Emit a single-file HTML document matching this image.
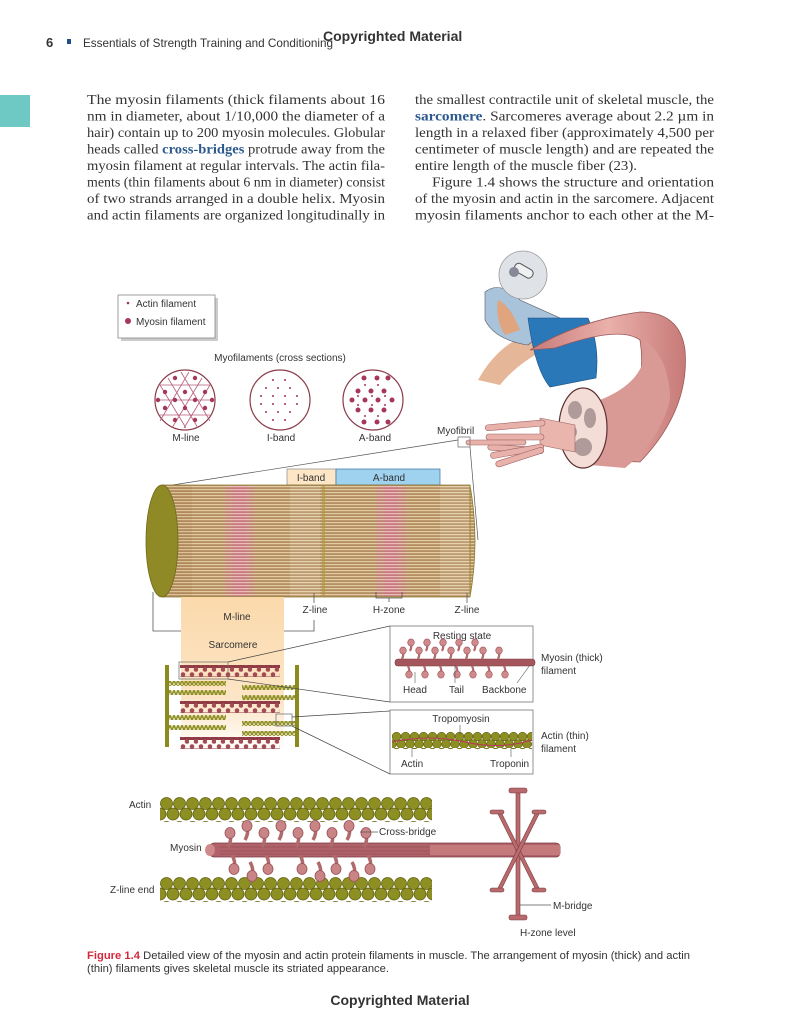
<!DOCTYPE html>
<html><head><meta charset="utf-8"><style>
html,body{margin:0;padding:0;background:#fff;}
svg{display:block;}
.s{font-family:"Liberation Sans",sans-serif;fill:#333;}
.t{font-family:"Liberation Serif",serif;font-size:13.5px;fill:#333;}
</style></head><body>
<svg width="800" height="1035" viewBox="0 0 800 1035" xmlns="http://www.w3.org/2000/svg">
<defs>
<pattern id="stripe" width="4" height="3" patternUnits="userSpaceOnUse">
<rect width="4" height="3" fill="#b38e60"/><rect y="0" width="4" height="1.2" fill="#e3cca4"/>
</pattern>
<pattern id="pstripe" width="4" height="3" patternUnits="userSpaceOnUse">
<rect width="4" height="3" fill="#c77a7e"/><rect y="0" width="4" height="1.2" fill="#ecbcbc"/>
</pattern>
<pattern id="actin" x="160" y="797" width="13" height="24" patternUnits="userSpaceOnUse">
<circle cx="6.5" cy="6.5" r="6" fill="#8e8f22" stroke="#5f6010" stroke-width=".8"/>
<circle cx="0" cy="17" r="6" fill="#8e8f22" stroke="#5f6010" stroke-width=".8"/>
<circle cx="13" cy="17" r="6" fill="#8e8f22" stroke="#5f6010" stroke-width=".8"/>
</pattern>
<pattern id="actin2" x="160" y="877" width="13" height="24" patternUnits="userSpaceOnUse">
<circle cx="6.5" cy="6.5" r="6" fill="#8e8f22" stroke="#5f6010" stroke-width=".8"/>
<circle cx="0" cy="17" r="6" fill="#8e8f22" stroke="#5f6010" stroke-width=".8"/>
<circle cx="13" cy="17" r="6" fill="#8e8f22" stroke="#5f6010" stroke-width=".8"/>
</pattern>
<pattern id="actinS" x="392" y="732" width="9" height="16" patternUnits="userSpaceOnUse">
<circle cx="4.5" cy="4.5" r="4.3" fill="#8e8f22" stroke="#5f6010" stroke-width=".6"/>
<circle cx="0" cy="12" r="4.3" fill="#8e8f22" stroke="#5f6010" stroke-width=".6"/>
<circle cx="9" cy="12" r="4.3" fill="#8e8f22" stroke="#5f6010" stroke-width=".6"/>
</pattern>
<pattern id="tiny" width="4" height="5" patternUnits="userSpaceOnUse">
<circle cx="2" cy="1.5" r="1.5" fill="#8e8f22"/><circle cx="0" cy="3.8" r="1.5" fill="#8e8f22"/><circle cx="4" cy="3.8" r="1.5" fill="#8e8f22"/>
</pattern>
<pattern id="myoS" width="9" height="12" patternUnits="userSpaceOnUse">
<rect y="4.5" width="9" height="3.5" fill="#8e3b45"/>
<circle cx="3" cy="2.5" r="2.3" fill="#a24b55"/><circle cx="7" cy="9.5" r="2.3" fill="#a24b55"/>
<rect x="2.2" y="3" width="1.6" height="3" fill="#a24b55"/><rect x="6.2" y="7" width="1.6" height="3" fill="#a24b55"/>
</pattern>
<linearGradient id="peach" x1="0" y1="0" x2="0" y2="1">
<stop offset="0" stop-color="#fbd9ab"/><stop offset=".7" stop-color="#fce6c8"/><stop offset="1" stop-color="#fff"/>
</linearGradient>
<linearGradient id="pink" x1="0" y1="0" x2="1" y2="0">
<stop offset="0" stop-color="#c77a78"/><stop offset=".5" stop-color="#eab0aa"/><stop offset="1" stop-color="#c77a78"/>
</linearGradient>
<g id="head"><path d="M0 0 Q4 -7 2 -13" stroke="#b06a6c" stroke-width="3.5" fill="none"/><ellipse cx="2" cy="-14" rx="5" ry="5.5" fill="#c98486" stroke="#9a5058" stroke-width=".8"/></g>
<g id="hd"><path d="M0 0 Q4 7 2 13" stroke="#b06a6c" stroke-width="3.5" fill="none"/><ellipse cx="2" cy="14" rx="5" ry="5.5" fill="#c98486" stroke="#9a5058" stroke-width=".8"/></g>
<g id="sh"><path d="M0 0 Q2 -4 1 -8" stroke="#b06a6c" stroke-width="2.2" fill="none"/><ellipse cx="1" cy="-8.5" rx="3.3" ry="3.6" fill="#cf8a8c" stroke="#9a5058" stroke-width=".6"/></g>
<g id="shd"><path d="M0 0 Q2 4 1 8" stroke="#b06a6c" stroke-width="2.2" fill="none"/><ellipse cx="1" cy="8.5" rx="3.3" ry="3.6" fill="#cf8a8c" stroke="#9a5058" stroke-width=".6"/></g>
</defs>

<!-- header -->
<text x="46" y="47" class="s" font-size="13" font-weight="bold" fill="#222">6</text>
<rect x="67" y="39" width="4" height="5" fill="#1f4f8a"/>
<text x="83" y="47" class="s" font-size="12" fill="#666" textLength="250" lengthAdjust="spacingAndGlyphs">Essentials of Strength Training and Conditioning</text>
<text x="323" y="41" class="s" font-size="14" font-weight="bold" fill="#555">Copyrighted Material</text>
<rect x="0" y="95" width="30" height="32" fill="#6ec8c3"/>

<!-- body text -->
<g class="t">
<text x="87" y="104" textLength="298" lengthAdjust="spacingAndGlyphs">The myosin filaments (thick filaments about 16</text>
<text x="87" y="120.5" textLength="298" lengthAdjust="spacingAndGlyphs">nm in diameter, about 1/10,000 the diameter of a</text>
<text x="87" y="137" textLength="298" lengthAdjust="spacingAndGlyphs">hair) contain up to 200 myosin molecules. Globular</text>
<text x="87" y="153.5" textLength="298" lengthAdjust="spacingAndGlyphs">heads called <tspan font-weight="bold" fill="#2d5a8e">cross-bridges</tspan> protrude away from the</text>
<text x="87" y="170" textLength="298" lengthAdjust="spacingAndGlyphs">myosin filament at regular intervals. The actin fila-</text>
<text x="87" y="186.5" textLength="298" lengthAdjust="spacingAndGlyphs">ments (thin filaments about 6 nm in diameter) consist</text>
<text x="87" y="203" textLength="298" lengthAdjust="spacingAndGlyphs">of two strands arranged in a double helix. Myosin</text>
<text x="87" y="219.5" textLength="298" lengthAdjust="spacingAndGlyphs">and actin filaments are organized longitudinally in</text>
<text x="415" y="104" textLength="299" lengthAdjust="spacingAndGlyphs">the smallest contractile unit of skeletal muscle, the</text>
<text x="415" y="120.5" textLength="299" lengthAdjust="spacingAndGlyphs"><tspan font-weight="bold" fill="#2d5a8e">sarcomere</tspan>. Sarcomeres average about 2.2 µm in</text>
<text x="415" y="137" textLength="299" lengthAdjust="spacingAndGlyphs">length in a relaxed fiber (approximately 4,500 per</text>
<text x="415" y="153.5" textLength="299" lengthAdjust="spacingAndGlyphs">centimeter of muscle length) and are repeated the</text>
<text x="415" y="170" textLength="222" lengthAdjust="spacingAndGlyphs">entire length of the muscle fiber (23).</text>
<text x="432" y="186.5" textLength="282" lengthAdjust="spacingAndGlyphs">Figure 1.4 shows the structure and orientation</text>
<text x="415" y="203" textLength="299" lengthAdjust="spacingAndGlyphs">of the myosin and actin in the sarcomere. Adjacent</text>
<text x="415" y="219.5" textLength="299" lengthAdjust="spacingAndGlyphs">myosin filaments anchor to each other at the M-</text>
</g>

<!-- muscle illustration -->
<path d="M478 380 Q500 340 540 330 L555 345 Q520 360 500 385 Z" fill="#e0a47e" opacity=".8"/>
<path d="M485 292 Q500 280 520 300 L560 318 L528 345 Q495 340 485 320 Z" fill="#a9c3da" stroke="#556" stroke-width=".6"/>
<path d="M498 300 Q510 305 520 330 L505 335 Q495 320 498 300Z" fill="#e0a47e"/>
<circle cx="523" cy="275" r="24" fill="#dfe3e7" stroke="#999" stroke-width=".8"/>
<rect x="513" y="266" width="20" height="9" rx="4" fill="#eef0f2" stroke="#555" transform="rotate(30 523 272)"/>
<circle cx="514" cy="272" r="5" fill="#889" />
<path d="M528 318 L588 318 Q600 345 596 378 L550 387 Q535 370 528 318Z" fill="#2a78b8" stroke="#1c4f80" stroke-width=".6"/>
<path d="M530 350 Q580 320 640 312 Q680 312 685 350 Q690 410 640 462 L600 460 Q650 400 640 340 Q620 325 555 348Z" fill="url(#pink)" stroke="#9a5a5a" stroke-width=".8"/>
<path d="M600 400 Q650 380 645 340 Q670 360 670 400 Q660 440 625 468 L590 465Z" fill="#d99a96"/>
<ellipse cx="583" cy="428" rx="24" ry="40" fill="#f3ddd6" stroke="#5a2f2f" stroke-width="1.2"/>
<g fill="#b09a9a"><ellipse cx="575" cy="410" rx="7" ry="9"/><ellipse cx="590" cy="418" rx="6" ry="10"/><ellipse cx="583" cy="447" rx="9" ry="9"/><ellipse cx="572" cy="432" rx="5" ry="6"/></g>
<path d="M540 418 L575 425 L575 452 L540 445 Z" fill="#e9b5ad" stroke="#a06464" stroke-width=".6"/>
<g stroke="#a06464" stroke-width=".6" fill="#e8b2aa">
<rect x="485" y="425" width="60" height="6" rx="3" transform="rotate(-5 485 425)"/>
<rect x="486" y="434" width="58" height="6" rx="3"/>
<rect x="488" y="444" width="56" height="6" rx="3" transform="rotate(4 488 444)"/>
<rect x="490" y="453" width="54" height="6" rx="3" transform="rotate(-10 490 453)"/>
<rect x="495" y="462" width="50" height="6" rx="3" transform="rotate(-18 495 462)"/>
<rect x="466" y="440" width="60" height="5" rx="2.5"/>
</g>
<text x="437" y="434" class="s" font-size="10">Myofibril</text>
<rect x="458" y="437" width="12" height="10" fill="none" stroke="#777" stroke-width=".8"/>
<line x1="458" y1="440" x2="160" y2="487" stroke="#555" stroke-width=".7"/>
<line x1="470" y1="447" x2="478" y2="540" stroke="#555" stroke-width=".7"/>

<!-- legend -->
<rect x="121" y="298" width="97" height="43" fill="#ccc"/>
<rect x="118" y="295" width="97" height="43" fill="#fff" stroke="#888" stroke-width=".8"/>
<circle cx="128" cy="303" r="1.3" fill="#a5375a"/>
<circle cx="128" cy="321" r="3" fill="#a5375a"/>
<text x="136" y="307" class="s" font-size="10">Actin filament</text>
<text x="136" y="325" class="s" font-size="10">Myosin filament</text>

<!-- cross sections -->
<text x="280" y="361" class="s" font-size="10" text-anchor="middle">Myofilaments (cross sections)</text>
<g fill="none" stroke="#8a3a48" stroke-width="1.2">
<circle cx="185" cy="400" r="30"/><circle cx="280" cy="400" r="30"/><circle cx="373" cy="400" r="30"/>
</g>
<g stroke="#b55c78" stroke-width=".8" fill="none">
<line x1="160" y1="385" x2="210" y2="385"/><line x1="157" y1="400" x2="213" y2="400"/><line x1="160" y1="415" x2="210" y2="415"/>
<line x1="168" y1="378" x2="198" y2="428"/><line x1="181" y1="372" x2="210" y2="421"/><line x1="160" y1="385" x2="186" y2="428"/>
<line x1="202" y1="378" x2="172" y2="428"/><line x1="189" y1="372" x2="160" y2="421"/><line x1="210" y1="385" x2="184" y2="428"/>
</g>
<g fill="#a5375a">
<circle cx="175" cy="378" r="2.2"/><circle cx="195" cy="378" r="2.2"/>
<circle cx="165" cy="392" r="2.2"/><circle cx="185" cy="392" r="2.2"/><circle cx="205" cy="392" r="2.2"/>
<circle cx="158" cy="400" r="2.2"/><circle cx="175" cy="400" r="2.2"/><circle cx="195" cy="400" r="2.2"/><circle cx="212" cy="400" r="2.2"/>
<circle cx="165" cy="408" r="2.2"/><circle cx="185" cy="408" r="2.2"/><circle cx="205" cy="408" r="2.2"/>
<circle cx="175" cy="420" r="2.2"/><circle cx="195" cy="420" r="2.2"/>
</g>
<g fill="#a5375a">
<circle cx="273" cy="380" r="1"/><circle cx="285" cy="380" r="1"/><circle cx="266" cy="388" r="1"/><circle cx="278" cy="388" r="1"/><circle cx="290" cy="388" r="1"/>
<circle cx="261" cy="396" r="1"/><circle cx="273" cy="396" r="1"/><circle cx="285" cy="396" r="1"/><circle cx="297" cy="396" r="1"/>
<circle cx="261" cy="404" r="1"/><circle cx="273" cy="404" r="1"/><circle cx="285" cy="404" r="1"/><circle cx="297" cy="404" r="1"/>
<circle cx="266" cy="412" r="1"/><circle cx="278" cy="412" r="1"/><circle cx="290" cy="412" r="1"/><circle cx="273" cy="420" r="1"/><circle cx="285" cy="420" r="1"/>
</g>
<g fill="#a5375a">
<circle cx="364" cy="378" r="2.5"/><circle cx="377" cy="378" r="2.5"/><circle cx="388" cy="378" r="2.5"/>
<circle cx="358" cy="391" r="2.5"/><circle cx="371" cy="391" r="2.5"/><circle cx="384" cy="391" r="2.5"/>
<circle cx="352" cy="400" r="2.5"/><circle cx="365" cy="400" r="2.5"/><circle cx="378" cy="400" r="2.5"/><circle cx="392" cy="400" r="2.5"/>
<circle cx="358" cy="410" r="2.5"/><circle cx="371" cy="410" r="2.5"/><circle cx="384" cy="410" r="2.5"/>
<circle cx="364" cy="422" r="2.5"/><circle cx="377" cy="422" r="2.5"/><circle cx="388" cy="422" r="2.5"/>
<circle cx="365" cy="385" r="1"/><circle cx="378" cy="385" r="1"/><circle cx="358" cy="396" r="1"/><circle cx="372" cy="396" r="1"/><circle cx="385" cy="396" r="1"/>
<circle cx="358" cy="405" r="1"/><circle cx="372" cy="405" r="1"/><circle cx="385" cy="405" r="1"/><circle cx="365" cy="416" r="1"/><circle cx="378" cy="416" r="1"/>
</g>
<g class="s" font-size="10" text-anchor="middle">
<text x="186" y="441">M-line</text><text x="281" y="441">I-band</text><text x="375" y="441">A-band</text>
</g>

<!-- band labels -->
<rect x="287" y="469" width="49" height="16" fill="#fde6c6" stroke="#888" stroke-width=".7"/>
<rect x="336" y="469" width="104" height="16" fill="#9fd2ef" stroke="#3a6fa0" stroke-width=".7"/>
<text x="311" y="481" class="s" font-size="10" text-anchor="middle">I-band</text>
<text x="389" y="481" class="s" font-size="10" text-anchor="middle">A-band</text>

<!-- cylinder -->
<path d="M162 485 L470 485 Q480 541 470 597 L162 597 Z" fill="url(#stripe)" stroke="#8c7a30" stroke-width=".8"/>
<rect x="162" y="486" width="30" height="110" fill="#8c5a2a" opacity=".08"/>
<rect x="290" y="486" width="30" height="110" fill="#ffffff" opacity=".12"/>
<rect x="440" y="486" width="30" height="110" fill="#ffffff" opacity=".12"/>
<rect x="225" y="486" width="8" height="110" fill="url(#pstripe)" opacity=".6"/>
<rect x="233" y="486" width="13" height="110" fill="url(#pstripe)"/>
<rect x="246" y="486" width="8" height="110" fill="url(#pstripe)" opacity=".6"/>
<rect x="376" y="486" width="8" height="110" fill="url(#pstripe)" opacity=".6"/>
<rect x="384" y="486" width="14" height="110" fill="url(#pstripe)"/>
<rect x="398" y="486" width="8" height="110" fill="url(#pstripe)" opacity=".6"/>
<rect x="322" y="486" width="3" height="110" fill="#a89a3a" opacity=".6"/>
<ellipse cx="162" cy="541" rx="16" ry="56" fill="#8f8a26" stroke="#6e6a18" stroke-width=".8"/>
<line x1="470" y1="485" x2="470" y2="597" stroke="#9a8a30" stroke-width="1"/>

<!-- brackets -->
<g stroke="#555" stroke-width=".8" fill="none">
<path d="M153 592 L153 631 L314 631 L314 620"/>
<line x1="236" y1="597" x2="236" y2="606"/><line x1="314" y1="593" x2="314" y2="603"/>
<path d="M376 592 L376 598 L402 598 L402 592"/><line x1="389" y1="598" x2="389" y2="602"/>
<line x1="467" y1="593" x2="467" y2="603"/>
<line x1="234" y1="631" x2="234" y2="637"/>
</g>
<rect x="181" y="597" width="103" height="153" fill="url(#peach)"/>
<g class="s" font-size="10" text-anchor="middle">
<text x="315" y="613">Z-line</text><text x="389" y="613">H-zone</text><text x="467" y="613">Z-line</text>
<text x="237" y="620">M-line</text><text x="233" y="648">Sarcomere</text>
</g>

<!-- small sarcomere -->
<rect x="165" y="665" width="4" height="82" fill="#8a8a1e"/>
<rect x="295" y="665" width="4" height="82" fill="#8a8a1e"/>
<g>
<rect x="180" y="665" width="100" height="12" fill="url(#myoS)"/>
<rect x="180" y="701" width="100" height="12" fill="url(#myoS)"/>
<rect x="180" y="737" width="100" height="12" fill="url(#myoS)"/>
<rect x="169" y="681" width="57" height="5" fill="url(#tiny)"/><rect x="169" y="690" width="57" height="5" fill="url(#tiny)"/>
<rect x="242" y="685" width="53" height="5" fill="url(#tiny)"/><rect x="242" y="695" width="53" height="5" fill="url(#tiny)"/>
<rect x="169" y="715" width="57" height="5" fill="url(#tiny)"/><rect x="169" y="725" width="57" height="5" fill="url(#tiny)"/>
<rect x="242" y="721" width="53" height="5" fill="url(#tiny)"/><rect x="242" y="731" width="53" height="5" fill="url(#tiny)"/>
</g>
<rect x="179" y="662" width="49" height="17" fill="none" stroke="#666" stroke-width=".7"/>
<rect x="276" y="714" width="16" height="12" fill="none" stroke="#666" stroke-width=".7"/>
<g stroke="#444" stroke-width=".7">
<line x1="228" y1="662" x2="390" y2="626"/><line x1="228" y1="679" x2="390" y2="702"/>
<line x1="292" y1="717" x2="390" y2="711"/><line x1="292" y1="726" x2="390" y2="774"/>
</g>

<!-- resting state box -->
<rect x="390" y="626" width="143" height="76" fill="#fff" stroke="#777" stroke-width=".8"/>
<text x="462" y="639" class="s" font-size="10" text-anchor="middle">Resting state</text>
<rect x="395" y="659" width="140" height="7" rx="3" fill="#a4565c" stroke="#7a3a40" stroke-width=".6"/>
<g>
<use href="#sh" x="402" y="659"/><use href="#sh" x="418" y="659"/><use href="#sh" x="434" y="659"/><use href="#sh" x="450" y="659"/><use href="#sh" x="466" y="659"/><use href="#sh" x="482" y="659"/><use href="#sh" x="498" y="659"/>
<use href="#sh" x="410" y="651"/><use href="#sh" x="426" y="651"/><use href="#sh" x="442" y="651"/><use href="#sh" x="458" y="651"/><use href="#sh" x="474" y="651"/>
<use href="#shd" x="408" y="666"/><use href="#shd" x="424" y="666"/><use href="#shd" x="440" y="666"/><use href="#shd" x="456" y="666"/><use href="#shd" x="472" y="666"/><use href="#shd" x="488" y="666"/><use href="#shd" x="504" y="666"/>
</g>
<g stroke="#555" stroke-width=".6"><line x1="415" y1="672" x2="415" y2="683"/><line x1="455" y1="665" x2="455" y2="683"/><line x1="517" y1="683" x2="530" y2="665"/></g>
<g class="s" font-size="10"><text x="403" y="693">Head</text><text x="449" y="693">Tail</text><text x="482" y="693">Backbone</text></g>
<text x="541" y="661" class="s" font-size="10">Myosin (thick)</text>
<text x="541" y="674" class="s" font-size="10">filament</text>

<!-- tropomyosin box -->
<rect x="390" y="710" width="143" height="64" fill="#fff" stroke="#777" stroke-width=".8"/>
<text x="461" y="722" class="s" font-size="10" text-anchor="middle">Tropomyosin</text>
<rect x="392" y="732" width="140" height="17" fill="url(#actinS)"/>
<path d="M392 742 Q430 734 465 742 T532 740" stroke="#b83a5a" stroke-width="1" fill="none"/>
<g stroke="#555" stroke-width=".6"><line x1="412" y1="748" x2="412" y2="757"/><line x1="511" y1="748" x2="511" y2="757"/><line x1="460" y1="725" x2="460" y2="735"/></g>
<g class="s" font-size="10"><text x="401" y="767">Actin</text><text x="490" y="767">Troponin</text></g>
<text x="541" y="739" class="s" font-size="10">Actin (thin)</text>
<text x="541" y="752" class="s" font-size="10">filament</text>

<!-- bottom detail -->
<text x="129" y="808" class="s" font-size="10">Actin</text>
<text x="170" y="851" class="s" font-size="10">Myosin</text>
<text x="110" y="893" class="s" font-size="10">Z-line end</text>
<rect x="160" y="797" width="272" height="25" fill="url(#actin)"/>
<rect x="160" y="877" width="272" height="25" fill="url(#actin2)"/>
<rect x="210" y="843" width="350" height="14" rx="4" fill="#b0626a" stroke="#7a3a40" stroke-width=".8"/>
<rect x="430" y="845" width="130" height="10" fill="#c47a7a"/>
<g stroke="#8a4048" stroke-width=".6"><line x1="220" y1="847" x2="430" y2="847"/><line x1="220" y1="851" x2="430" y2="851"/><line x1="220" y1="854" x2="430" y2="854"/></g>
<g>
<use href="#head" x="228" y="847"/><use href="#head" x="262" y="847"/><use href="#head" x="296" y="847"/><use href="#head" x="330" y="847"/><use href="#head" x="364" y="847"/>
<use href="#head" x="245" y="840"/><use href="#head" x="279" y="840"/><use href="#head" x="313" y="840"/><use href="#head" x="347" y="840"/>
<use href="#hd" x="232" y="855"/><use href="#hd" x="266" y="855"/><use href="#hd" x="300" y="855"/><use href="#hd" x="334" y="855"/><use href="#hd" x="368" y="855"/>
<use href="#hd" x="250" y="862"/><use href="#hd" x="318" y="862"/><use href="#hd" x="352" y="862"/>
</g>
<ellipse cx="210" cy="850" rx="5" ry="6" fill="#cf8a8c"/>
<line x1="360" y1="832" x2="378" y2="832" stroke="#555" stroke-width=".7"/>
<text x="379" y="835" class="s" font-size="10">Cross-bridge</text>
<g fill="#b86a6c" stroke="#7a3a40" stroke-width=".6">
<rect x="516" y="790" width="4" height="128"/>
<rect x="509" y="788" width="18" height="5" rx="2"/><rect x="509" y="915" width="18" height="5" rx="2"/>
<path d="M497 812 L500 810 L540 890 L537 892Z"/><path d="M540 812 L537 810 L497 890 L500 892Z"/>
<rect x="490" y="810" width="14" height="4" rx="2"/><rect x="532" y="810" width="14" height="4" rx="2"/>
<rect x="490" y="888" width="14" height="4" rx="2"/><rect x="532" y="888" width="14" height="4" rx="2"/>
</g>
<line x1="520" y1="905" x2="551" y2="905" stroke="#555" stroke-width=".7"/>
<text x="553" y="909" class="s" font-size="10">M-bridge</text>
<text x="520" y="936" class="s" font-size="10">H-zone level</text>

<!-- caption -->
<text x="87" y="959" class="s" font-size="11" textLength="603" lengthAdjust="spacingAndGlyphs"><tspan fill="#d4283c" font-weight="bold">Figure 1.4</tspan>   Detailed view of the myosin and actin protein filaments in muscle. The arrangement of myosin (thick) and actin</text>
<text x="87" y="972" class="s" font-size="11" textLength="302" lengthAdjust="spacingAndGlyphs">(thin) filaments gives skeletal muscle its striated appearance.</text>
<text x="400" y="1005" class="s" font-size="14" font-weight="bold" fill="#555" text-anchor="middle">Copyrighted Material</text>
</svg>
</body></html>
